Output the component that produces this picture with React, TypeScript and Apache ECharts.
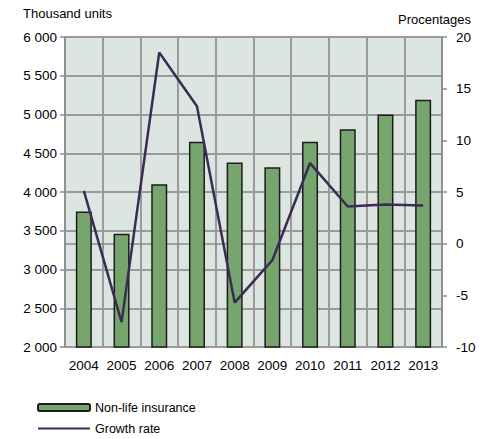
import React, { useEffect, useRef } from "react";
import * as echarts from "echarts";

const years = ["2004", "2005", "2006", "2007", "2008", "2009", "2010", "2011", "2012", "2013"];
const nonLifeInsurance = [3750, 3460, 4100, 4650, 4380, 4320, 4650, 4810, 5000, 5190];
const growthRate = [5.1, -7.6, 18.5, 13.3, -5.7, -1.6, 7.8, 3.6, 3.8, 3.7];
const leftAxisTitle = "Thousand units";
const rightAxisTitle = "Procentages";

const FONT = "'Liberation Sans', Arial, sans-serif";

export default function App() {
  const ref = useRef<HTMLDivElement>(null);
  useEffect(() => {
    if (!ref.current) return;
    const chart = echarts.init(ref.current, undefined, { renderer: "svg" });
    chart.setOption({
      animation: false,
      textStyle: { fontFamily: FONT },
      grid: { left: 65, right: 39, top: 37, bottom: 92, show: true, backgroundColor: "#dde5e0", borderWidth: 0 },
      graphic: [
        { type: "text", left: 23, top: 7, style: { text: leftAxisTitle, fontSize: 13, fontFamily: FONT, fill: "#000" } },
        { type: "text", right: 10, top: 13, style: { text: rightAxisTitle, fontSize: 13, fontFamily: FONT, fill: "#000" } },
      ],
      legend: {
        orient: "vertical",
        left: 37,
        top: 401,
        padding: 0,
        itemWidth: 52,
        itemHeight: 7,
        itemGap: 8,
        textStyle: { fontSize: 12.5, fontFamily: FONT, color: "#000" },
        data: [
          { name: "Non-life insurance" },
          { name: "Growth rate", itemStyle: { opacity: 0 } },
        ],
      },
      xAxis: {
        type: "category",
        data: years,
        axisLine: { lineStyle: { color: "#8c8c8c", width: 1.5 } },
        axisTick: { show: true, interval: 0, length: 5, lineStyle: { color: "#8c8c8c", width: 1.5 } },
        axisLabel: { color: "#000", interval: 0, fontSize: 13.5, margin: 11, fontFamily: FONT },
        splitLine: { show: true, interval: 0, lineStyle: { color: "#9a9a9a", width: 2 } },
      },
      yAxis: [
        {
          type: "value",
          min: 2000,
          max: 6000,
          interval: 500,
          axisLine: { show: true, lineStyle: { color: "#8c8c8c", width: 1.5 } },
          axisTick: { show: true, length: 5, lineStyle: { color: "#8c8c8c", width: 1.5 } },
          axisLabel: {
            color: "#000",
            fontSize: 13.5,
            margin: 8,
            fontFamily: FONT,
            formatter: (v: number) => {
              const s = String(v);
              return s.length > 3 ? s.slice(0, s.length - 3) + " " + s.slice(-3) : s;
            },
          },
          splitLine: { show: true, lineStyle: { color: "#9a9a9a", width: 2 } },
        },
        {
          type: "value",
          min: -10,
          max: 20,
          interval: 5,
          position: "right",
          axisLine: { show: true, lineStyle: { color: "#8c8c8c", width: 1.5 } },
          axisTick: { show: true, length: 5, lineStyle: { color: "#8c8c8c", width: 1.5 } },
          axisLabel: { color: "#000", fontSize: 13.5, margin: 14, fontFamily: FONT },
          splitLine: { show: false },
        },
      ],
      series: [
        {
          name: "Non-life insurance",
          type: "bar",
          data: nonLifeInsurance,
          barWidth: 16,
          itemStyle: { color: "#76a56d", borderColor: "#1c1c1c", borderWidth: 1.5 },
          yAxisIndex: 0,
        },
        {
          name: "Growth rate",
          type: "line",
          data: growthRate,
          yAxisIndex: 1,
          symbol: "none",
          lineStyle: { color: "#3b2c55", width: 2.5 },
          itemStyle: { color: "#3b2c55" },
        },
      ],
    });
    return () => chart.dispose();
  }, []);
  return <div ref={ref} style={{ width: 481, height: 439, position: "absolute", left: 0, top: 0 }} />;
}
